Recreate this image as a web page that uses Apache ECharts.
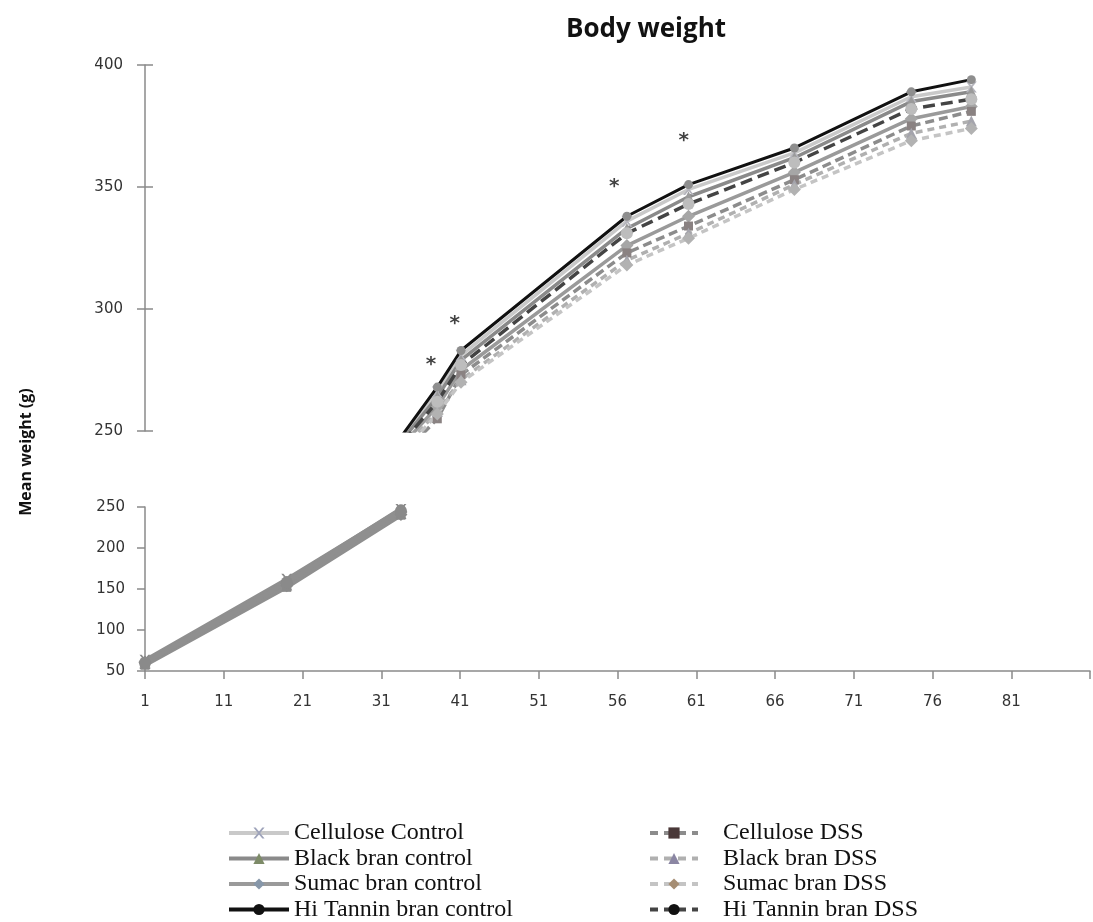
<!DOCTYPE html>
<html>
<head>
<meta charset="utf-8">
<title>Body weight</title>
<script src="https://cdn.jsdelivr.net/npm/echarts@6/dist/echarts.min.js"></script>
<style>
  html, body { margin: 0; padding: 0; background: #fff; }
  #chart { width: 1093px; height: 922px; }
</style>
</head>
<body>
<div id="chart"></div>
<script>
// Day labels printed under the x axis (evenly spaced on the axis)
const tickDays = [1, 11, 21, 31, 41, 51, 56, 61, 66, 71, 76, 81];

// Weighing days
const days = [1, 19, 33.5, 38, 41, 56.5, 60.4, 67.1, 74.5, 78.3];

// Number of early weighings drawn in the lower (50-250 g) panel
const earlyCount = 3;

// Mean body weight (g) per group
const celluloseControl = [63, 162, 247, 266, 281, 336, 349, 364, 387, 391];
const blackBranControl = [61, 159, 246, 264, 279, 333, 346, 362, 385, 389];
const sumacBranControl = [61, 157, 244, 260, 275, 326, 338, 356, 378, 383];
const hiTanninControl  = [62, 160, 248, 268, 283, 338, 351, 366, 389, 394];
const celluloseDSS     = [57, 152, 240, 255, 273, 323, 334, 353, 375, 381];
const blackBranDSS     = [59, 155, 242, 258, 271, 320, 331, 351, 372, 377];
const sumacBranDSS     = [60, 154, 241, 257, 270, 318, 329, 349, 369, 374];
const hiTanninDSS      = [60, 158, 245, 262, 277, 331, 343, 360, 382, 386];

// Significance marks
const starDays   = [37.2, 40.2, 55.7, 60.1];
const starValues = [279, 296, 352, 371];

// Upper and lower y ranges of the broken axis
const upperTicks = [250, 300, 350, 400];
const lowerTicks = [50, 100, 150, 200, 250];

// Position on the axis: the day labels are evenly spaced, so a day maps
// linearly inside the interval between its two neighbouring labels.
function dayToPos(day) {
  for (let i = 0; i < tickDays.length - 1; i++) {
    if (day <= tickDays[i + 1]) {
      return i + (day - tickDays[i]) / (tickDays[i + 1] - tickDays[i]);
    }
  }
  return tickDays.length - 1;
}

const xSymbol = 'path://M0,0 L2,0 L5,3 L8,0 L10,0 L6,4 L10,8 L8,8 L5,5 L2,8 L0,8 L4,4 Z';

// line colour, marker colour in the plot, marker colour in the key
const groups = [
  { name: 'Cellulose Control',      values: celluloseControl, line: '#c9c9c9', mark: '#b4b4bc', key: '#9ea3ba', symbol: xSymbol,    size: 11, type: 'solid',  width: 3.5 },
  { name: 'Black bran control',     values: blackBranControl, line: '#8a8a8a', mark: '#9a9a9a', key: '#7d8b68', symbol: 'triangle', size: 11, type: 'solid',  width: 3.5 },
  { name: 'Sumac bran control',     values: sumacBranControl, line: '#9a9a9a', mark: '#a6a6a6', key: '#8797a9', symbol: 'diamond',  size: 13, type: 'solid',  width: 3.5 },
  { name: 'Hi Tannin bran control', values: hiTanninControl,  line: '#111111', mark: '#8e8e8e', key: '#111111', symbol: 'circle',   size: 9,  type: 'solid',  width: 3 },
  { name: 'Cellulose DSS',          values: celluloseDSS,     line: '#8c8c8c', mark: '#8a8282', key: '#4a3838', symbol: 'rect',     size: 9,  type: [9, 5],  width: 3.5 },
  { name: 'Black bran DSS',         values: blackBranDSS,     line: '#b0b0b0', mark: '#a4a4ac', key: '#8b86a3', symbol: 'triangle', size: 11, type: [7, 5],  width: 3.5 },
  { name: 'Sumac bran DSS',         values: sumacBranDSS,     line: '#c4c4c4', mark: '#b2b2b2', key: '#a58d73', symbol: 'diamond',  size: 13, type: [7, 5],  width: 3.5 },
  { name: 'Hi Tannin bran DSS',     values: hiTanninDSS,      line: '#444444', mark: '#bdbdbd', key: '#111111', symbol: 'circle',   size: 12, type: [12, 6], width: 3.5 }
];

const axisFont = { fontFamily: 'DejaVu Sans', fontSize: 15, color: '#333' };
const axisLineStyle = { color: '#8a8a8a', width: 1.5 };

// The lower (early growth) panel draws every group as one grey band.
function makeSeries(gridIdx) {
  const lower = gridIdx === 1;
  const shownDays = lower ? days.slice(0, earlyCount) : days;
  return groups.map(g => ({
    name: g.name,
    type: 'line',
    xAxisIndex: gridIdx,
    yAxisIndex: gridIdx,
    clip: true,
    data: shownDays.map((d, i) => [dayToPos(d), g.values[i]]),
    symbol: g.symbol,
    symbolSize: g.size,
    showAllSymbol: true,
    lineStyle: lower
      ? { color: '#8f8f8f', width: 4, type: 'solid' }
      : { color: g.line, width: g.width, type: g.type },
    itemStyle: { color: lower ? '#8a8a8a' : g.mark, borderWidth: 0 },
    emphasis: { disabled: true },
    animation: false
  }));
}

function legendItems(list) {
  return list.map(g => ({
    name: g.name,
    itemStyle: { color: g.key },
    lineStyle: { color: g.line, width: 4, type: Array.isArray(g.type) ? [8, 6] : 'solid' }
  }));
}

const chart = echarts.init(document.getElementById('chart'), null, { renderer: 'canvas' });

const legendText = { fontFamily: 'Liberation Serif', fontSize: 24, lineHeight: 24, color: '#111' };

const option = {
  backgroundColor: '#ffffff',
  animation: false,
  title: {
    text: 'Body weight',
    left: 641,
    top: 12,
    textAlign: 'center',
    textStyle: { fontFamily: 'Open Sans', fontWeight: 'bold', fontSize: 26, color: '#111' }
  },
  graphic: [{
    type: 'text',
    x: 26,
    y: 452,
    rotation: Math.PI / 2,
    style: {
      text: 'Mean weight (g)',
      fontFamily: 'Open Sans',
      fontWeight: 'bold',
      fontSize: 16,
      fill: '#111',
      textAlign: 'center',
      textVerticalAlign: 'middle'
    }
  }],
  grid: [
    { left: 145, right: -2, top: 65, height: 366 },
    { left: 145, right: -2, top: 507, height: 164 }
  ],
  xAxis: [
    { type: 'value', gridIndex: 0, min: 0, max: 12, interval: 1, show: false },
    {
      type: 'value', gridIndex: 1, min: 0, max: 12, interval: 1,
      axisLine: { show: true, onZero: false, lineStyle: axisLineStyle },
      axisTick: { show: true, length: 8, lineStyle: axisLineStyle },
      splitLine: { show: false },
      axisLabel: Object.assign({ margin: 24, formatter: v => (tickDays[v] !== undefined ? String(tickDays[v]) : '') }, axisFont)
    }
  ],
  yAxis: [
    {
      type: 'value', gridIndex: 0, min: upperTicks[0], max: upperTicks[upperTicks.length - 1], interval: 50,
      axisLine: { show: true, lineStyle: axisLineStyle },
      axisTick: { show: true, length: 8, lineStyle: axisLineStyle },
      splitLine: { show: false },
      axisLabel: Object.assign({ margin: 22 }, axisFont)
    },
    {
      type: 'value', gridIndex: 1, min: lowerTicks[0], max: lowerTicks[lowerTicks.length - 1], interval: 50,
      axisLine: { show: true, lineStyle: axisLineStyle },
      axisTick: { show: true, length: 8, lineStyle: axisLineStyle },
      splitLine: { show: false },
      axisLabel: Object.assign({ margin: 20 }, axisFont)
    },
    {
      // inner half of the crossing ticks on the upper axis
      type: 'value', gridIndex: 0, position: 'left', min: upperTicks[0], max: upperTicks[upperTicks.length - 1], interval: 50,
      axisLine: { show: false },
      axisTick: { show: true, inside: true, length: 8, lineStyle: axisLineStyle },
      splitLine: { show: false },
      axisLabel: { show: false }
    }
  ],
  legend: [
    {
      orient: 'vertical', left: 222, top: 816, height: 110,
      data: legendItems(groups.slice(0, 4)),
      itemWidth: 60, itemHeight: 14, itemGap: 1.5,
      selectedMode: false,
      textStyle: legendText
    },
    {
      orient: 'vertical', left: 643, top: 816, height: 110,
      data: legendItems(groups.slice(4)),
      itemWidth: 48, itemHeight: 14, itemGap: 1.5,
      selectedMode: false,
      textStyle: Object.assign({ padding: [0, 0, 0, 20] }, legendText)
    }
  ],
  series: makeSeries(0).concat(makeSeries(1)).concat([{
    name: 'significance',
    type: 'scatter',
    xAxisIndex: 0,
    yAxisIndex: 0,
    data: starDays.map((d, i) => [dayToPos(d), starValues[i]]),
    symbolSize: 1,
    itemStyle: { color: 'rgba(0,0,0,0)' },
    label: {
      show: true,
      position: 'inside',
      formatter: '*',
      fontFamily: 'DejaVu Sans',
      fontWeight: 'bold',
      fontSize: 20,
      color: '#111',
      offset: [0, 5]
    },
    emphasis: { disabled: true },
    silent: true
  }])
};

chart.setOption(option);
</script>
</body>
</html>
